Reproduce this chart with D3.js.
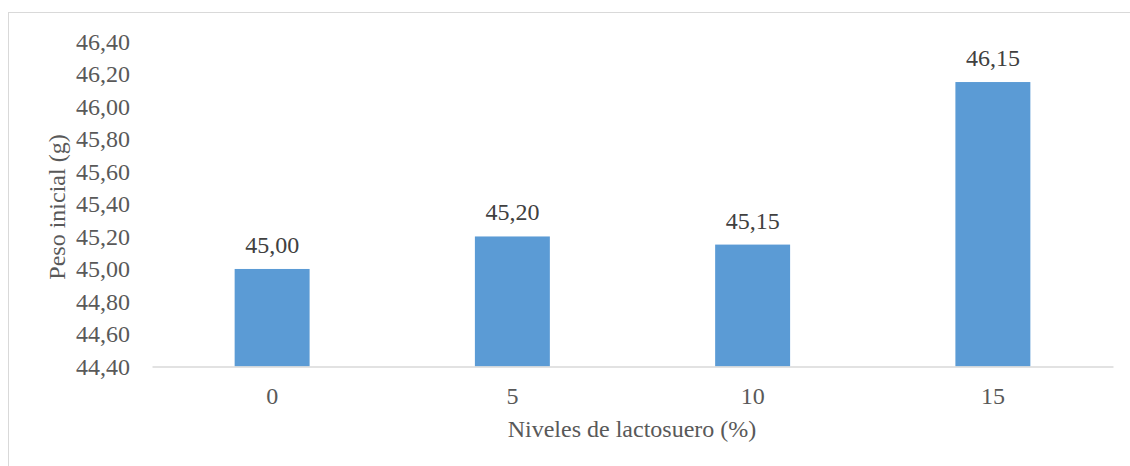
<!DOCTYPE html>
<html>
<head>
<meta charset="utf-8">
<script src="https://d3js.org/d3.v7.min.js"></script>
<style>
    body { margin: 0; background: #fff; }
</style>
</head>
<body>
<div id="chart"></div>
<script>
    // data
    var niveles = ["0", "5", "10", "15"];
    var pesoInicial = [45.00, 45.20, 45.15, 46.15];
    var yTicks = [44.40, 44.60, 44.80, 45.00, 45.20, 45.40, 45.60, 45.80, 46.00, 46.20, 46.40];

    var serif = "'Liberation Serif', 'Times New Roman', Times, serif";
    var width = 1130, height = 466;
    var margin = { top: 41.4, right: 17, bottom: 99.5, left: 152 };

    var svg = d3.select("#chart").append("svg")
        .attr("width", width)
        .attr("height", height);

    // chart area border (right/bottom edges fall outside the picture)
    svg.append("rect")
        .attr("x", 8.5).attr("y", 12.5)
        .attr("width", width + 20).attr("height", height + 20)
        .attr("fill", "none")
        .attr("stroke", "#d9d9d9")
        .attr("stroke-width", 1);

    var x = d3.scaleBand()
        .domain(niveles)
        .range([margin.left, width - margin.right])
        .paddingInner(0.688)
        .paddingOuter(0.344);

    var y = d3.scaleLinear()
        .domain([44.40, 46.40])
        .range([height - margin.bottom, margin.top]);

    var fmt = function (v) { return d3.format(".2f")(v).replace(".", ","); };

    // y axis labels, no line or ticks
    var yAxis = svg.append("g")
        .attr("transform", "translate(" + (margin.left - 22) + ",0)")
        .call(d3.axisLeft(y).tickValues(yTicks).tickFormat(fmt).tickSize(0).tickPadding(0));
    yAxis.select(".domain").remove();
    yAxis.selectAll("text")
        .attr("dy", "0.32em");

    // bars
    svg.selectAll("rect.bar")
        .data(pesoInicial)
        .enter().append("rect")
        .attr("class", "bar")
        .attr("x", function (d, i) { return x(niveles[i]); })
        .attr("y", function (d) { return y(d); })
        .attr("width", x.bandwidth())
        .attr("height", function (d) { return y(44.40) - y(d); })
        .attr("fill", "#5b9bd5");

    // value labels
    svg.selectAll("text.lbl")
        .data(pesoInicial)
        .enter().append("text")
        .attr("class", "lbl")
        .attr("x", function (d, i) { return x(niveles[i]) + x.bandwidth() / 2; })
        .attr("y", function (d) { return y(d) - 16; })
        .attr("text-anchor", "middle")
        .text(fmt);

    // x axis
    var xAxis = svg.append("g")
        .attr("transform", "translate(0," + y(44.40) + ")")
        .call(d3.axisBottom(x).tickSize(0).tickPadding(0));
    xAxis.select(".domain")
        .attr("stroke", "#d9d9d9")
        .attr("stroke-width", 1.5);
    xAxis.selectAll("text")
        .attr("dy", null)
        .attr("y", 37.5);

    // axis titles
    svg.append("text")
        .attr("x", 632).attr("y", 437)
        .attr("text-anchor", "middle")
        .text("Niveles de lactosuero (%)");

    svg.append("text")
        .attr("transform", "translate(65,207) rotate(-90)")
        .attr("text-anchor", "middle")
        .text("Peso inicial (g)");

    // same font everywhere
    svg.selectAll("text")
        .style("font-family", serif)
        .style("font-size", "24px")
        .style("fill", "#595959");
    svg.selectAll("text.lbl").style("fill", "#404040");
</script>
</body>
</html>
